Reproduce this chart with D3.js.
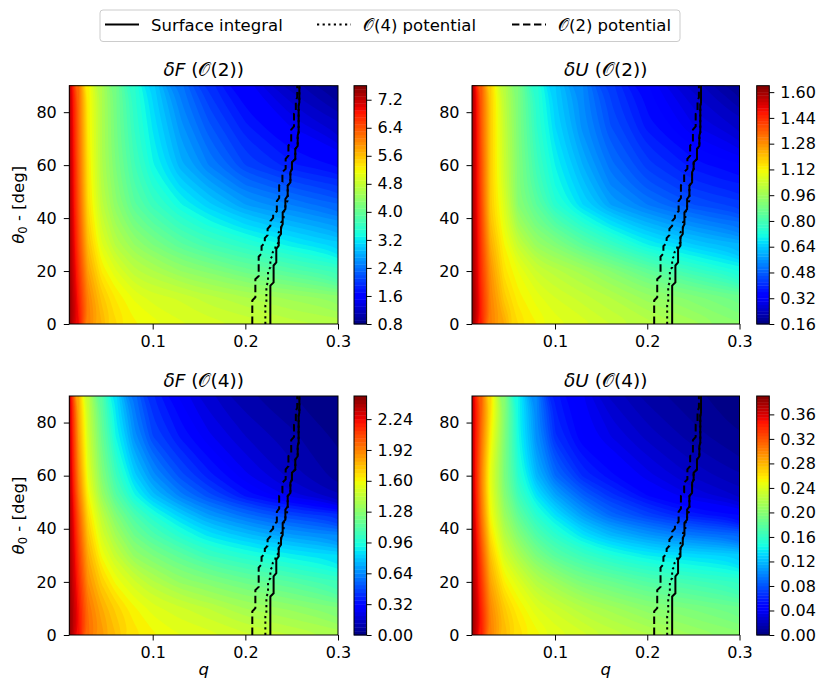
<!DOCTYPE html>
<html>
<head>
<meta charset="utf-8">
<script src="https://cdn.jsdelivr.net/npm/d3@7"></script>
<style>
  body { margin: 0; background: #fff; }
  svg { display: block; }
  text { font-family: "DejaVu Sans", sans-serif; fill: #000; }
</style>
</head>
<body>
<svg id="fig" width="830" height="697"></svg>
<script>
// grid the fields were read on
const qGrid = [0.01, 0.02, 0.03, 0.045, 0.06, 0.08, 0.1, 0.13, 0.16, 0.2, 0.25, 0.3];
const thetaGrid = [0, 10, 20, 30, 37.5, 45, 52.5, 60, 75, 90];

// one row per theta, one column per q
const dF2 = [
  [7.53, 6.92, 6.10, 5.70, 5.42, 5.22, 5.15, 5.02, 4.95, 4.88, 4.74, 4.68],
  [7.53, 6.78, 6.04, 5.56, 5.29, 5.08, 4.95, 4.88, 4.74, 4.61, 4.47, 4.34],
  [7.46, 6.65, 5.83, 5.29, 5.02, 4.74, 4.61, 4.40, 4.27, 4.06, 3.86, 3.66],
  [7.46, 6.51, 5.63, 5.02, 4.68, 4.40, 4.20, 3.93, 3.72, 3.52, 3.25, 3.04],
  [7.43, 6.45, 5.52, 4.88, 4.51, 4.16, 3.93, 3.62, 3.38, 3.11, 2.87, 2.67],
  [7.40, 6.38, 5.42, 4.74, 4.34, 3.93, 3.66, 3.32, 3.04, 2.70, 2.50, 2.30],
  [7.40, 6.34, 5.39, 4.67, 4.27, 3.82, 3.49, 3.08, 2.77, 2.40, 2.16, 1.99],
  [7.40, 6.31, 5.36, 4.61, 4.20, 3.72, 3.32, 2.84, 2.50, 2.09, 1.82, 1.68],
  [7.33, 6.24, 5.29, 4.61, 4.13, 3.59, 3.18, 2.64, 2.23, 1.82, 1.48, 1.21],
  [7.33, 6.24, 5.29, 4.61, 4.13, 3.52, 3.04, 2.43, 1.96, 1.55, 1.14, 0.87]
];
const dU2 = [
  [1.63, 1.46, 1.31, 1.24, 1.16, 1.12, 1.09, 1.07, 1.04, 1.01, 0.97, 0.92],
  [1.63, 1.45, 1.30, 1.19, 1.13, 1.09, 1.06, 1.03, 1.00, 0.95, 0.91, 0.87],
  [1.61, 1.43, 1.28, 1.15, 1.10, 1.04, 1.01, 0.97, 0.92, 0.85, 0.78, 0.72],
  [1.61, 1.42, 1.24, 1.12, 1.03, 0.95, 0.91, 0.84, 0.78, 0.70, 0.64, 0.60],
  [1.60, 1.41, 1.21, 1.09, 0.97, 0.89, 0.83, 0.75, 0.68, 0.61, 0.55, 0.51],
  [1.60, 1.40, 1.19, 1.07, 0.92, 0.84, 0.75, 0.66, 0.58, 0.52, 0.46, 0.43],
  [1.60, 1.39, 1.19, 1.05, 0.91, 0.81, 0.72, 0.63, 0.54, 0.47, 0.41, 0.38],
  [1.60, 1.39, 1.19, 1.04, 0.91, 0.79, 0.70, 0.60, 0.51, 0.43, 0.37, 0.34],
  [1.60, 1.37, 1.19, 1.03, 0.90, 0.76, 0.66, 0.55, 0.46, 0.37, 0.30, 0.25],
  [1.60, 1.37, 1.19, 1.01, 0.90, 0.75, 0.64, 0.54, 0.43, 0.34, 0.25, 0.18]
];
const dF4 = [
  [2.46, 2.23, 1.98, 1.86, 1.76, 1.66, 1.61, 1.56, 1.54, 1.49, 1.44, 1.39],
  [2.46, 2.21, 1.96, 1.81, 1.71, 1.61, 1.54, 1.49, 1.44, 1.36, 1.31, 1.24],
  [2.43, 2.16, 1.88, 1.71, 1.59, 1.49, 1.41, 1.31, 1.26, 1.19, 1.12, 1.04],
  [2.43, 2.11, 1.81, 1.59, 1.46, 1.31, 1.24, 1.14, 1.04, 0.97, 0.89, 0.84],
  [2.42, 2.07, 1.75, 1.51, 1.36, 1.20, 1.10, 0.98, 0.87, 0.78, 0.69, 0.64],
  [2.41, 2.03, 1.69, 1.44, 1.26, 1.09, 0.97, 0.82, 0.69, 0.58, 0.48, 0.42],
  [2.40, 1.96, 1.62, 1.33, 1.13, 0.93, 0.78, 0.62, 0.50, 0.35, 0.22, 0.12],
  [2.38, 1.91, 1.56, 1.26, 1.05, 0.82, 0.66, 0.50, 0.38, 0.25, 0.14, 0.06],
  [2.36, 1.84, 1.50, 1.18, 0.92, 0.66, 0.48, 0.35, 0.25, 0.16, 0.09, 0.03],
  [2.36, 1.80, 1.45, 1.12, 0.85, 0.58, 0.40, 0.27, 0.17, 0.09, 0.04, 0.00]
];
const dU4 = [
  [0.384, 0.345, 0.303, 0.279, 0.264, 0.252, 0.244, 0.237, 0.229, 0.221, 0.210, 0.202],
  [0.384, 0.341, 0.299, 0.272, 0.256, 0.241, 0.233, 0.221, 0.213, 0.202, 0.194, 0.186],
  [0.380, 0.334, 0.287, 0.256, 0.241, 0.221, 0.210, 0.194, 0.186, 0.175, 0.167, 0.159],
  [0.380, 0.326, 0.275, 0.237, 0.217, 0.194, 0.178, 0.163, 0.151, 0.140, 0.132, 0.128],
  [0.378, 0.318, 0.263, 0.223, 0.199, 0.174, 0.157, 0.136, 0.120, 0.107, 0.095, 0.089],
  [0.376, 0.310, 0.252, 0.210, 0.182, 0.155, 0.136, 0.109, 0.089, 0.074, 0.058, 0.050],
  [0.374, 0.306, 0.248, 0.200, 0.166, 0.136, 0.112, 0.086, 0.068, 0.050, 0.034, 0.024],
  [0.372, 0.303, 0.244, 0.194, 0.155, 0.118, 0.090, 0.064, 0.052, 0.037, 0.024, 0.015],
  [0.369, 0.310, 0.256, 0.198, 0.145, 0.102, 0.066, 0.045, 0.035, 0.023, 0.012, 0.005],
  [0.369, 0.318, 0.268, 0.202, 0.145, 0.100, 0.058, 0.040, 0.024, 0.013, 0.006, 0.002]
];

// critical q against theta, as steps: q[k] holds from theta[k] to theta[k+1]
const surfTheta = [0, 15.1, 22.7, 29.0, 33.4, 37.1, 42.8, 47.8, 52.9, 57.9, 61.7, 66.7, 71.8, 83.1, 90];
const surfQ = [0.2270, 0.2305, 0.2334, 0.2360, 0.2385, 0.2403, 0.2432, 0.2457, 0.2486, 0.2503, 0.2539, 0.2565, 0.2575, 0.2583];
const pot4Theta = [0, 7.6, 15.1, 20.8, 25.2, 27.7, 30.2, 35.2, 39.0, 42.8, 46.0, 52.9, 57.9, 61.7, 66.7, 71.8, 83.1, 90];
const pot4Q = [0.2216, 0.2227, 0.2245, 0.2270, 0.2295, 0.2324, 0.2360, 0.2388, 0.2413, 0.2432, 0.2457, 0.2486, 0.2503, 0.2539, 0.2565, 0.2575, 0.2583];
const pot2Theta = [0, 9.5, 17.5, 26, 30, 33, 36.5, 39.5, 42, 47, 53, 58, 63, 68, 74, 80, 85, 90];
const pot2Q = [0.2075, 0.2108, 0.2144, 0.2175, 0.2210, 0.2240, 0.2270, 0.2300, 0.2340, 0.2365, 0.2400, 0.2435, 0.2465, 0.2495, 0.2525, 0.2545, 0.2560];

const xTicks = [0.1, 0.2, 0.3];
const yTicks = [0, 20, 40, 60, 80];
const cbTicksF2 = [0.8, 1.6, 2.4, 3.2, 4.0, 4.8, 5.6, 6.4, 7.2];
const cbTicksU2 = [0.16, 0.32, 0.48, 0.64, 0.80, 0.96, 1.12, 1.28, 1.44, 1.60];
const cbTicksF4 = [0.00, 0.32, 0.64, 0.96, 1.28, 1.60, 1.92, 2.24];
const cbTicksU4 = [0.00, 0.04, 0.08, 0.12, 0.16, 0.20, 0.24, 0.28, 0.32, 0.36];

const svg = d3.select("#fig");

// matplotlib jet
const jetR = [[0, 0], [0.35, 0], [0.66, 1], [0.89, 1], [1, 0.5]];
const jetG = [[0, 0], [0.125, 0], [0.375, 1], [0.64, 1], [0.91, 0], [1, 0]];
const jetB = [[0, 0.5], [0.11, 1], [0.34, 1], [0.65, 0], [1, 0]];
function seg(s, t) {
  for (let i = 1; i < s.length; i++) {
    if (t <= s[i][0]) {
      const a = s[i - 1], b = s[i];
      return a[1] + (b[1] - a[1]) * (t - a[0]) / (b[0] - a[0]);
    }
  }
  return s[s.length - 1][1];
}
function jet(t) {
  return d3.rgb(255 * seg(jetR, t), 255 * seg(jetG, t), 255 * seg(jetB, t)).toString();
}

// d3.contours grid coords -> data (cells outside the grid run past the clip)
function fromIndex(grid, c) {
  const t = c - 0.5, n = grid.length;
  const i = Math.max(0, Math.min(n - 2, Math.floor(t)));
  return grid[i] + (t - i) * (grid[i + 1] - grid[i]);
}

function fmtTitle(sel, sym, order) {
  sel.append("tspan").attr("font-style", "italic").text(sym);
  sel.append("tspan").text(" (");
  sel.append("tspan").text("\u{1D4AA}");
  sel.append("tspan").text("(" + order + "))");
}

const panels = [
  {sym: "\u03B4F", order: 2, values: dF2, lo: 0.8, hi: 7.6, step: 0.1, ticks: cbTicksF2, fmt: d3.format(".1f"),
   x0: 69.3, x1: 338, y0: 85.7, y1: 324, cb: 354, ylab: true, xlab: false},
  {sym: "\u03B4U", order: 2, values: dU2, lo: 0.16, hi: 1.64, step: 0.02, ticks: cbTicksU2, fmt: d3.format(".2f"),
   x0: 472, x1: 739.5, y0: 85.7, y1: 324, cb: 756.7, ylab: false, xlab: false},
  {sym: "\u03B4F", order: 4, values: dF4, lo: 0, hi: 2.48, step: 0.04, ticks: cbTicksF4, fmt: d3.format(".2f"),
   x0: 69.3, x1: 338, y0: 396, y1: 635, cb: 354, ylab: true, xlab: true},
  {sym: "\u03B4U", order: 4, values: dU4, lo: 0, hi: 0.39, step: 0.005, ticks: cbTicksU4, fmt: d3.format(".2f"),
   x0: 472, x1: 739.5, y0: 396, y1: 635, cb: 756.7, ylab: false, xlab: true}
];

const lines = [
  {th: surfTheta, q: surfQ, dash: null},
  {th: pot4Theta, q: pot4Q, dash: "2.2,3.4"},
  {th: pot2Theta, q: pot2Q, dash: "7.4,3.6"}
];

function stepPoints(th, q) {
  const pts = [];
  const d = 0.6;
  for (let k = 0; k < q.length; k++) {
    const a = k === 0 ? th[0] : th[k] + d;
    const b = k === q.length - 1 ? th[k + 1] : th[k + 1] - d;
    pts.push([q[k], a], [q[k], b]);
  }
  return pts;
}

function styleAxis(g, size) {
  g.attr("font-family", null).attr("font-size", null);
  g.select(".domain").remove();
  g.selectAll(".tick line").attr("stroke", "#000").attr("stroke-width", 1);
  g.selectAll(".tick text").style("font-size", size + "px").attr("fill", "#000");
}

const ringLine = d3.line().curve(d3.curveBasisClosed);

panels.forEach((p, pi) => {
  const x = d3.scaleLinear([0.01, 0.3], [p.x0, p.x1]);
  const y = d3.scaleLinear([0, 90], [p.y1, p.y0]);
  const nq = qGrid.length, nt = thetaGrid.length;

  const nb = Math.round((p.hi - p.lo) / p.step);
  const levels = d3.range(nb + 1).map(k => p.lo + k * p.step);
  const colors = d3.range(nb).map(k => jet((k + 0.5) / nb));

  const clipId = "clip" + pi;
  svg.append("clipPath").attr("id", clipId)
    .append("rect").attr("x", p.x0).attr("y", p.y0)
    .attr("width", p.x1 - p.x0).attr("height", p.y1 - p.y0);

  const contours = d3.contours().size([nq, nt])
    .thresholds(levels.slice(0, -1))(p.values.flat());

  // smooth each ring in pixel space
  const bandPath = geom => geom.coordinates.map(poly => poly.map(ring =>
    ringLine(ring.slice(0, -1).map(([cx, cy]) =>
      [x(fromIndex(qGrid, cx)), y(fromIndex(thetaGrid, cy))]))).join("")).join("");

  const g = svg.append("g").attr("clip-path", `url(#${clipId})`);
  g.append("rect").attr("x", p.x0).attr("y", p.y0)
    .attr("width", p.x1 - p.x0).attr("height", p.y1 - p.y0).attr("fill", colors[0]);
  g.selectAll("path.band").data(contours).join("path")
    .attr("class", "band")
    .attr("d", bandPath)
    .attr("fill-rule", "evenodd")
    .attr("fill", (d, i) => colors[i]);

  const line = d3.line().x(d => x(d[0])).y(d => y(d[1]));
  lines.forEach(l => {
    g.append("path")
      .attr("d", line(stepPoints(l.th, l.q)))
      .attr("fill", "none").attr("stroke", "#000").attr("stroke-width", 2)
      .attr("stroke-dasharray", l.dash);
  });

  svg.append("rect").attr("x", p.x0).attr("y", p.y0)
    .attr("width", p.x1 - p.x0).attr("height", p.y1 - p.y0)
    .attr("fill", "none").attr("stroke", "#000").attr("stroke-width", 1);

  const gx = svg.append("g").attr("transform", `translate(0,${p.y1})`)
    .call(d3.axisBottom(x).tickValues(xTicks).tickFormat(d3.format(".1f"))
      .tickSize(5.5).tickPadding(6).tickSizeOuter(0));
  styleAxis(gx, 16);
  const gy = svg.append("g").attr("transform", `translate(${p.x0},0)`)
    .call(d3.axisLeft(y).tickValues(yTicks).tickSize(5.5).tickPadding(7).tickSizeOuter(0));
  styleAxis(gy, 16);

  // title
  const t = svg.append("text").attr("x", (p.x0 + p.x1) / 2).attr("y", p.y0 - 9.5)
    .attr("text-anchor", "middle").style("font-size", "18.5px");
  fmtTitle(t, p.sym, p.order);

  if (p.ylab) {
    const yl = svg.append("text")
      .attr("transform", `translate(24,${(p.y0 + p.y1) / 2}) rotate(-90)`)
      .attr("text-anchor", "middle").style("font-size", "16.5px");
    yl.append("tspan").attr("font-style", "italic").text("\u03B8");
    yl.append("tspan").attr("baseline-shift", "-25%").style("font-size", "11.5px").text("0");
    yl.append("tspan").text(" - [deg]");
  }
  if (p.xlab) {
    svg.append("text").attr("x", (p.x0 + p.x1) / 2).attr("y", p.y1 + 40)
      .attr("text-anchor", "middle").attr("font-style", "italic")
      .style("font-size", "16.5px").text("q");
  }

  // colorbar
  const cy = d3.scaleLinear([p.lo, p.hi], [p.y1, p.y0]);
  const cw = 12.6;
  svg.append("g").selectAll("rect").data(d3.range(nb)).join("rect")
    .attr("x", p.cb).attr("width", cw)
    .attr("y", k => cy(levels[k + 1]))
    .attr("height", k => cy(levels[k]) - cy(levels[k + 1]) + 0.4)
    .attr("fill", k => colors[k]);
  svg.append("rect").attr("x", p.cb).attr("y", p.y0).attr("width", cw).attr("height", p.y1 - p.y0)
    .attr("fill", "none").attr("stroke", "#000").attr("stroke-width", 1);
  const gc = svg.append("g").attr("transform", `translate(${p.cb + cw},0)`)
    .call(d3.axisRight(cy).tickValues(p.ticks).tickFormat(p.fmt)
      .tickSize(5).tickPadding(6).tickSizeOuter(0));
  styleAxis(gc, 16);
});

// legend
const leg = svg.append("g");
leg.append("rect").attr("x", 100).attr("y", 10).attr("width", 580).attr("height", 31.5)
  .attr("rx", 3).attr("fill", "#fff").attr("stroke", "#ccc").attr("stroke-width", 1);
const legItems = [
  {x: 105, text: "Surface integral", dash: null},
  {x: 317, order: 4, text: " potential", dash: "2.2,3.4"},
  {x: 512, order: 2, text: " potential", dash: "7.4,3.6"}
];
legItems.forEach(it => {
  leg.append("line").attr("x1", it.x).attr("x2", it.x + 34).attr("y1", 24.5).attr("y2", 24.5)
    .attr("stroke", "#000").attr("stroke-width", 2).attr("stroke-dasharray", it.dash);
  const tx = leg.append("text").attr("x", it.x + 46).attr("y", 30.5).style("font-size", "16.5px");
  if (it.order) {
    tx.append("tspan").text("\u{1D4AA}");
    tx.append("tspan").text("(" + it.order + ")" + it.text);
  } else {
    tx.text(it.text);
  }
});
</script>
</body>
</html>
